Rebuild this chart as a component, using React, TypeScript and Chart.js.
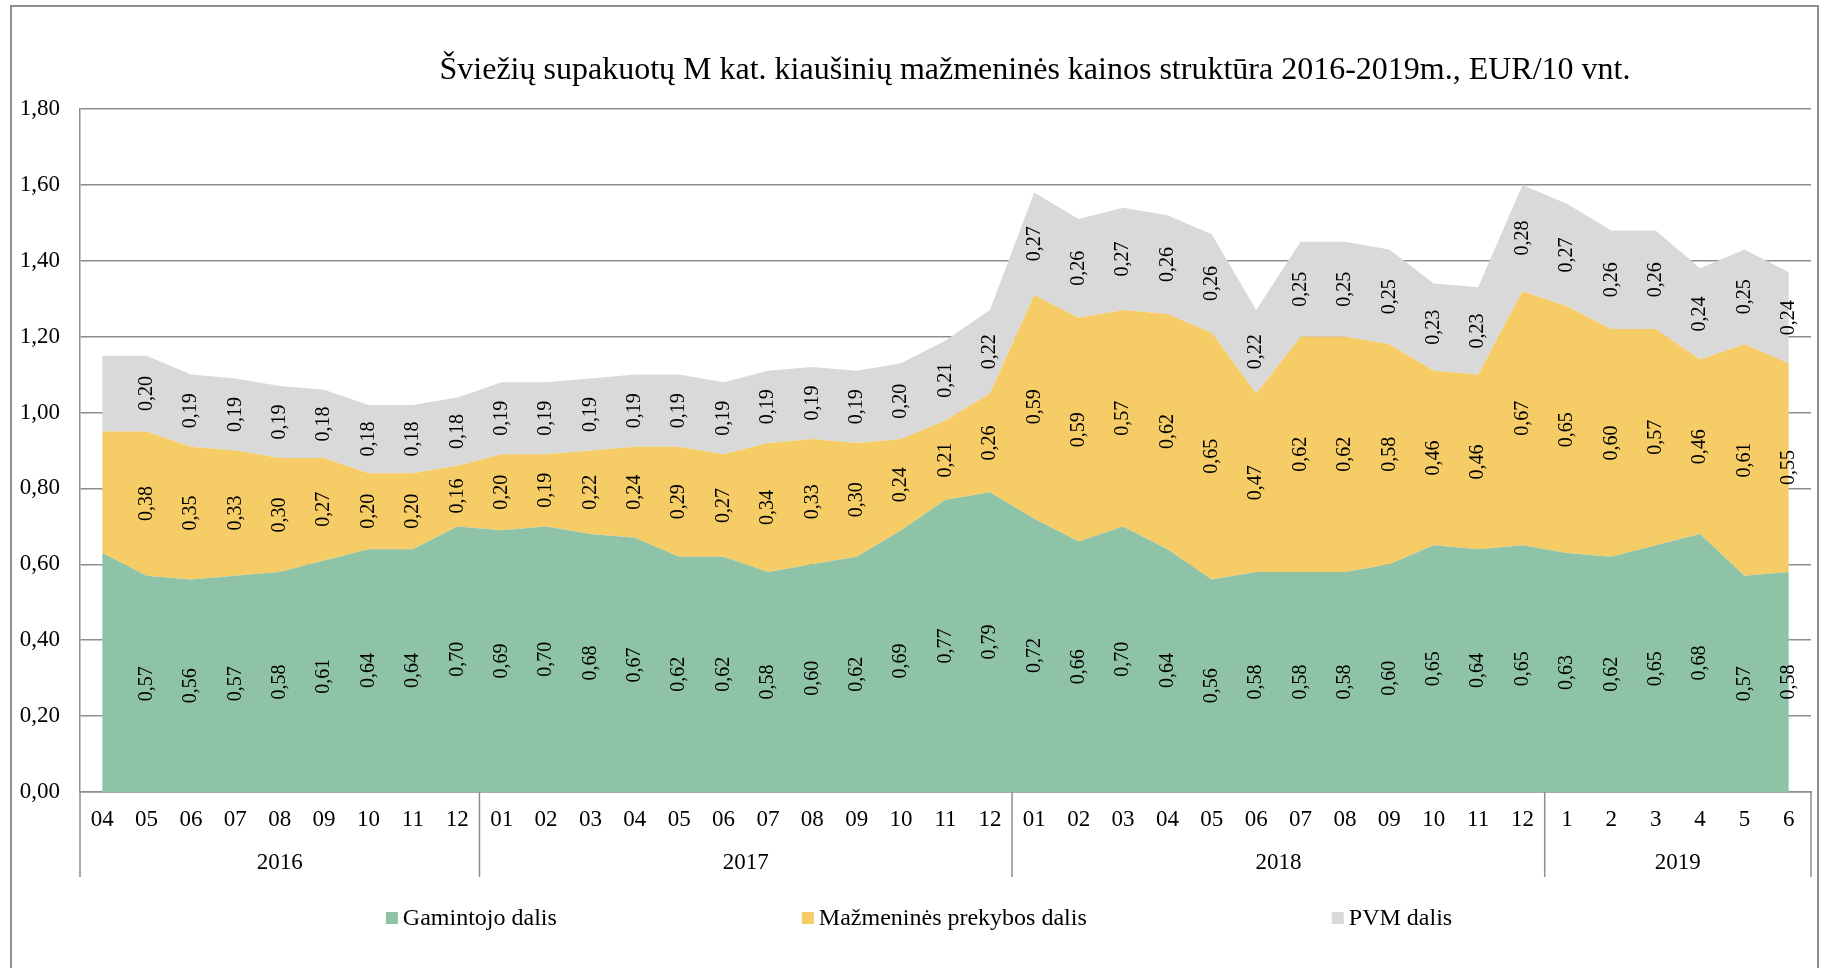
import React, { useEffect, useRef } from 'react';
import { Chart, registerables } from 'chart.js';

Chart.register(...registerables);

const TITLE = 'Šviežių supakuotų M kat. kiaušinių mažmeninės kainos struktūra 2016-2019m., EUR/10 vnt.';

const monthLabels = [
  '04', '05', '06', '07', '08', '09', '10', '11', '12',
  '01', '02', '03', '04', '05', '06', '07', '08', '09', '10', '11', '12',
  '01', '02', '03', '04', '05', '06', '07', '08', '09', '10', '11', '12',
  '1', '2', '3', '4', '5', '6',
];
const years = ['2016', '2017', '2018', '2019'];
const yearMonthCounts = [9, 12, 12, 6];

const producerShare = [
  0.63, 0.57, 0.56, 0.57, 0.58, 0.61, 0.64, 0.64, 0.70,
  0.69, 0.70, 0.68, 0.67, 0.62, 0.62, 0.58, 0.60, 0.62, 0.69, 0.77, 0.79,
  0.72, 0.66, 0.70, 0.64, 0.56, 0.58, 0.58, 0.58, 0.60, 0.65, 0.64, 0.65,
  0.63, 0.62, 0.65, 0.68, 0.57, 0.58,
];
const retailShare = [
  0.32, 0.38, 0.35, 0.33, 0.30, 0.27, 0.20, 0.20, 0.16,
  0.20, 0.19, 0.22, 0.24, 0.29, 0.27, 0.34, 0.33, 0.30, 0.24, 0.21, 0.26,
  0.59, 0.59, 0.57, 0.62, 0.65, 0.47, 0.62, 0.62, 0.58, 0.46, 0.46, 0.67,
  0.65, 0.60, 0.57, 0.46, 0.61, 0.55,
];
const vatShare = [
  0.20, 0.20, 0.19, 0.19, 0.19, 0.18, 0.18, 0.18, 0.18,
  0.19, 0.19, 0.19, 0.19, 0.19, 0.19, 0.19, 0.19, 0.19, 0.20, 0.21, 0.22,
  0.27, 0.26, 0.27, 0.26, 0.26, 0.22, 0.25, 0.25, 0.25, 0.23, 0.23, 0.28,
  0.27, 0.26, 0.26, 0.24, 0.25, 0.24,
];

const seriesNames = ['Gamintojo dalis', 'Mažmeninės prekybos dalis', 'PVM dalis'];
const seriesColors = ['#8FC3A7', '#F5CC66', '#D9D9D9'];
const seriesValues = [producerShare, retailShare, vatShare];

const Y_MIN = 0;
const Y_MAX = 1.8;
const Y_STEP = 0.2;

const SERIF = '"Liberation Serif", "Times New Roman", serif';
const LINE_COLOR = '#8e8e8e';

const fmt = (v: number) => v.toFixed(2).replace('.', ',');

const decorPlugin = {
  id: 'decor',
  afterDatasetsDraw(chart: any) {
    const ctx = chart.ctx;
    const xs = chart.scales.x;
    const ys = chart.scales.y;
    ctx.save();
    ctx.font = `20px ${SERIF}`;
    ctx.fillStyle = '#000';
    ctx.textAlign = 'center';
    ctx.textBaseline = 'middle';
    const cum = new Array(monthLabels.length).fill(0);
    chart.data.datasets.forEach((ds: any) => {
      ds.data.forEach((v: number, j: number) => {
        const base = cum[j];
        cum[j] += v;
        if (j === 0) return;
        const px = xs.getPixelForValue(j);
        const py = ys.getPixelForValue(base + v / 2);
        ctx.save();
        ctx.translate(px, py);
        ctx.rotate(-Math.PI / 2);
        ctx.fillText(fmt(v), 0, 0);
        ctx.restore();
      });
    });
    ctx.restore();
  },
  afterDraw(chart: any) {
    const ctx = chart.ctx;
    const xs = chart.scales.x;
    ctx.save();
    // outer border
    ctx.strokeStyle = LINE_COLOR;
    ctx.lineWidth = 2;
    ctx.strokeRect(11, 6, 1807, 1000);

    // title
    ctx.fillStyle = '#000';
    ctx.font = `32px ${SERIF}`;
    ctx.textAlign = 'center';
    ctx.textBaseline = 'alphabetic';
    ctx.fillText(TITLE, 1035, 79);

    // year groups
    const half = (xs.getPixelForValue(1) - xs.getPixelForValue(0)) / 2;
    ctx.strokeStyle = LINE_COLOR;
    ctx.lineWidth = 1.5;
    ctx.font = `23px ${SERIF}`;
    ctx.textBaseline = 'middle';
    let idx = 0;
    const top = xs.top;
    const drawSep = (x: number) => {
      ctx.beginPath();
      ctx.moveTo(x, top);
      ctx.lineTo(x, top + 85);
      ctx.stroke();
    };
    drawSep(xs.getPixelForValue(0) - half);
    years.forEach((yr, k) => {
      const start = idx;
      const end = idx + yearMonthCounts[k] - 1;
      const l = xs.getPixelForValue(start) - half;
      const r = xs.getPixelForValue(end) + half;
      drawSep(r);
      ctx.fillText(yr, (l + r) / 2, top + 71);
      idx = end + 1;
    });

    // legend
    ctx.font = `24px ${SERIF}`;
    ctx.textAlign = 'left';
    const box = 12;
    const boxGap = 5;
    const itemGap = 245;
    const widths = seriesNames.map((n) => box + boxGap + ctx.measureText(n).width);
    const total = widths.reduce((a, b) => a + b, 0) + itemGap * (widths.length - 1);
    let lx = 919 - total / 2;
    const ly = 918;
    seriesNames.forEach((n, i) => {
      ctx.fillStyle = seriesColors[i];
      ctx.fillRect(lx, ly - box / 2, box, box);
      ctx.fillStyle = '#000';
      ctx.fillText(n, lx + box + boxGap, ly + 1);
      lx += widths[i] + itemGap;
    });
    ctx.restore();
  },
};

export default function App() {
  const ref = useRef<HTMLCanvasElement | null>(null);
  useEffect(() => {
    if (!ref.current) return;
    const chart = new Chart(ref.current, {
      type: 'line',
      data: {
        labels: monthLabels,
        datasets: seriesValues.map((vals, i) => ({
          label: seriesNames[i],
          data: vals,
          backgroundColor: seriesColors[i],
          borderColor: seriesColors[i],
          borderWidth: 0,
          pointRadius: 0,
          tension: 0,
          fill: i === 0 ? 'origin' : '-1',
        })),
      },
      options: {
        responsive: false,
        animation: false,
        layout: { padding: { left: 0, right: 14, top: 109, bottom: 0 } },
        plugins: {
          legend: { display: false },
          title: { display: false },
          tooltip: { enabled: false },
        },
        scales: {
          x: {
            type: 'category',
            offset: true,
            grid: { display: false, drawTicks: false },
            border: { display: true, color: LINE_COLOR, width: 1.5 },
            ticks: {
              autoSkip: false,
              maxRotation: 0,
              minRotation: 0,
              padding: 14,
              color: '#000',
              font: { family: SERIF, size: 23 },
            },
            afterFit: (s: any) => {
              s.height = 968 - 792;
            },
          },
          y: {
            stacked: true,
            min: Y_MIN,
            max: Y_MAX,
            grid: { color: LINE_COLOR, lineWidth: 1.5, drawTicks: false },
            border: { display: true, color: LINE_COLOR, width: 1.5 },
            ticks: {
              stepSize: Y_STEP,
              padding: 20,
              color: '#000',
              font: { family: SERIF, size: 23 },
              callback: (v: any) => fmt(Number(v)),
            },
            afterFit: (s: any) => {
              s.width = 80;
            },
          },
        },
      },
      plugins: [decorPlugin],
    });
    return () => chart.destroy();
  }, []);
  return (
    <div style={{ position: 'absolute', left: 0, top: 0, width: 1825, height: 968 }}>
      <canvas ref={ref} width={1825} height={968} />
    </div>
  );
}
